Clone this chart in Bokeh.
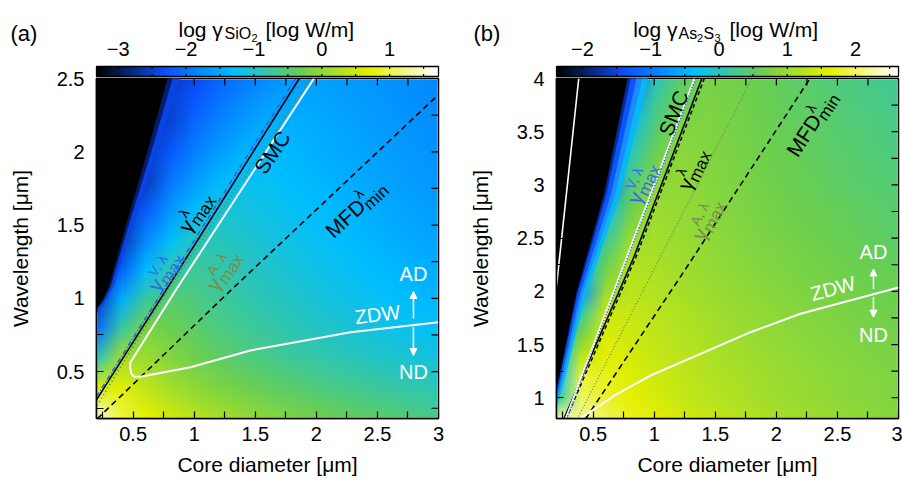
import math
import zlib
import struct
import base64
import numpy as np
from bokeh.plotting import figure
from bokeh.models import (LinearColorMapper, Label, FixedTicker, CustomJSTickFormatter,
                          Arrow, NormalHead, Range1d)
from bokeh.layouts import row, column
from bokeh.embed import file_html
from bokeh.resources import INLINE

FONT = "Liberation Sans"

# ---------------------------------------------------------------- data
core_diameter = [0.2, 0.4, 0.6, 0.8, 1.0, 1.2, 1.4, 1.6, 1.8, 2.0, 2.2, 2.4, 2.6, 2.8, 3.0]

wavelength_a = [0.2, 0.4, 0.6, 0.8, 1.0, 1.2, 1.4, 1.6, 1.8, 2.0, 2.2, 2.4, 2.6]
log_gamma_sio2 = [
    [1.49, 0.97, 0.72, 0.50, 0.33, 0.18, 0.05, -0.06, -0.17, -0.26, -0.35, -0.43, -0.50, -0.57, -0.63],
    [0.60, 0.68, 0.39, 0.17, -0.01, -0.15, -0.27, -0.38, -0.47, -0.56, -0.64, -0.71, -0.77, -0.83, -0.89],
    [-0.90, 0.15, 0.10, -0.09, -0.26, -0.40, -0.52, -0.62, -0.72, -0.80, -0.88, -0.95, -1.01, -1.07, -1.13],
    [-2.07, -0.77, -0.15, -0.29, -0.43, -0.57, -0.68, -0.78, -0.88, -0.96, -1.03, -1.10, -1.17, -1.23, -1.28],
    [-2.60, -1.48, -0.77, -0.47, -0.58, -0.70, -0.81, -0.90, -0.99, -1.08, -1.15, -1.22, -1.28, -1.34, -1.39],
    [-2.60, -2.16, -1.33, -0.83, -0.71, -0.80, -0.90, -1.00, -1.08, -1.16, -1.23, -1.30, -1.36, -1.42, -1.47],
    [-2.60, -2.60, -1.80, -1.29, -0.92, -0.92, -1.00, -1.09, -1.17, -1.24, -1.31, -1.38, -1.44, -1.50, -1.55],
    [-2.60, -2.60, -2.20, -1.66, -1.30, -1.05, -1.10, -1.17, -1.24, -1.31, -1.38, -1.44, -1.50, -1.56, -1.61],
    [-2.60, -2.60, -2.57, -1.96, -1.61, -1.35, -1.21, -1.25, -1.32, -1.38, -1.45, -1.51, -1.57, -1.62, -1.67],
    [-2.60, -2.60, -2.60, -2.24, -1.87, -1.61, -1.40, -1.33, -1.38, -1.44, -1.49, -1.55, -1.61, -1.66, -1.71],
    [-2.60, -2.60, -2.60, -2.48, -2.09, -1.83, -1.63, -1.46, -1.45, -1.49, -1.54, -1.60, -1.65, -1.70, -1.75],
    [-2.60, -2.60, -2.60, -2.50, -2.30, -2.03, -1.83, -1.66, -1.53, -1.55, -1.60, -1.64, -1.69, -1.74, -1.79],
    [-2.60, -2.60, -2.60, -2.60, -2.49, -2.21, -2.01, -1.84, -1.71, -1.62, -1.65, -1.69, -1.73, -1.78, -1.82],
]

wavelength_b = [0.8, 1.0, 1.2, 1.4, 1.6, 1.8, 2.0, 2.2, 2.4, 2.6, 2.8, 3.0, 3.2, 3.4, 3.6, 3.8, 4.0]
log_gamma_as2s3 = [
    [2.20, 2.22, 1.97, 1.77, 1.62, 1.49, 1.39, 1.30, 1.21, 1.13, 1.07, 1.01, 0.95, 0.90, 0.85],
    [0.16, 2.01, 1.80, 1.63, 1.50, 1.38, 1.28, 1.20, 1.12, 1.05, 0.99, 0.94, 0.88, 0.84, 0.80],
    [-0.40, 1.85, 1.72, 1.56, 1.44, 1.33, 1.24, 1.16, 1.09, 1.03, 0.97, 0.92, 0.87, 0.83, 0.77],
    [-0.40, 1.27, 1.62, 1.49, 1.37, 1.27, 1.19, 1.10, 1.04, 0.98, 0.93, 0.87, 0.83, 0.78, 0.74],
    [-0.40, 0.74, 1.53, 1.43, 1.32, 1.22, 1.14, 1.06, 0.99, 0.93, 0.88, 0.83, 0.78, 0.73, 0.70],
    [-0.40, 0.18, 1.40, 1.38, 1.28, 1.19, 1.11, 1.03, 0.97, 0.91, 0.85, 0.80, 0.75, 0.71, 0.67],
    [-0.40, -0.73, 1.03, 1.30, 1.21, 1.12, 1.04, 0.97, 0.91, 0.85, 0.79, 0.75, 0.70, 0.66, 0.62],
    [-0.40, -0.40, 0.70, 1.23, 1.17, 1.08, 1.00, 0.93, 0.86, 0.81, 0.75, 0.70, 0.65, 0.61, 0.57],
    [-0.40, -0.40, 0.37, 1.10, 1.12, 1.04, 0.96, 0.89, 0.82, 0.77, 0.71, 0.66, 0.61, 0.56, 0.52],
    [-0.40, -0.40, 0.03, 0.85, 1.07, 1.00, 0.92, 0.86, 0.79, 0.72, 0.67, 0.62, 0.57, 0.52, 0.48],
    [-0.40, -0.40, -0.39, 0.62, 1.03, 0.98, 0.90, 0.83, 0.76, 0.70, 0.64, 0.59, 0.54, 0.49, 0.45],
    [-0.40, -0.40, -1.17, 0.39, 0.90, 0.94, 0.87, 0.80, 0.73, 0.66, 0.60, 0.54, 0.49, 0.45, 0.42],
    [-0.40, -0.40, -0.40, 0.16, 0.71, 0.91, 0.85, 0.78, 0.71, 0.64, 0.58, 0.52, 0.47, 0.42, 0.37],
    [-0.40, -0.40, -0.40, -0.08, 0.53, 0.87, 0.83, 0.76, 0.69, 0.62, 0.56, 0.50, 0.44, 0.39, 0.34],
    [-0.40, -0.40, -0.40, -0.36, 0.36, 0.75, 0.81, 0.74, 0.67, 0.60, 0.54, 0.47, 0.41, 0.36, 0.30],
    [-0.40, -0.40, -0.40, -0.70, 0.19, 0.60, 0.78, 0.73, 0.65, 0.58, 0.51, 0.45, 0.38, 0.32, 0.26],
    [-0.40, -0.40, -0.40, -1.49, 0.01, 0.46, 0.75, 0.71, 0.64, 0.56, 0.49, 0.41, 0.34, 0.27, 0.22],
]

# edge of the region below the colour-scale minimum (drawn black)
a_black_edge_d = [0.15, 0.2, 0.25, 0.30, 0.437, 0.615, 0.779, 0.81]
a_black_edge_w = [0.84, 0.93, 0.99, 1.08, 1.49, 2.004, 2.5, 2.6]
b_black_edge_d = [0.12, 0.2, 0.233, 0.36, 0.415, 0.59, 0.78, 0.81]
b_black_edge_w = [0.7, 1.08, 1.26, 1.98, 2.2, 2.92, 4.0, 4.2]
# steep rise next to that edge: (start, end as fraction of edge diameter, colour)
a_edge_bands = [(0.0, 0.06, "#071c66"), (0.06, 0.13, "#0a44e6")]
b_edge_bands = [(0.0, 0.04, "#0a2a9a"), (0.04, 0.10, "#0a55ff"), (0.10, 0.16, "#1a8cff"),
                (0.16, 0.22, "#08b8f4")]

cbar_range_a = [-3.32, 1.72]
cbar_range_b = [-2.38, 2.63]
cbar_ticks_a = [-3, -2, -1, 0, 1]
cbar_ticks_b = [-2, -1, 0, 1, 2]

x_ticks = [0.5, 1, 1.5, 2, 2.5, 3]
x_minor = [0.25, 0.75, 1.25, 1.75, 2.25, 2.75]
y_ticks_a = [0.5, 1, 1.5, 2, 2.5]
y_minor_a = [0.25, 0.75, 1.25, 1.75, 2.25]
y_ticks_b = [1, 1.5, 2, 2.5, 3, 3.5, 4]
y_minor_b = [1.25, 1.75, 2.25, 2.75, 3.25, 3.75]

# curves, panel (a): core diameter [um] / wavelength [um]
a_gmax_lam_d = [0.2, 1.03, 1.86]
a_gmax_lam_w = [0.307, 1.40, 2.5]
a_gmax_V_d = [0.2, 1.83]
a_gmax_V_w = [0.33, 2.5]
a_gmax_A_d = [0.205, 0.784, 1.95]
a_gmax_A_w = [0.27, 1.053, 2.5]
a_smc_zdw_d = [1.98, 0.847, 0.478, 0.474, 0.485, 0.505, 0.56, 0.97, 1.46, 2.28, 3.0]
a_smc_zdw_w = [2.5, 1.053, 0.564, 0.53, 0.485, 0.467, 0.465, 0.53, 0.644, 0.769, 0.837]
a_mfd_d = [0.206, 1.297, 3.0]
a_mfd_w = [0.178, 1.053, 2.39]

# curves, panel (b)
b_smc_d = [0.274, 1.33]
b_smc_w = [0.8, 4.0]
b_gmax_V_d = [0.282, 1.338]
b_gmax_V_w = [0.8, 4.0]
b_gmax_lam_d = [0.26, 0.833, 1.39]
b_gmax_lam_w = [0.8, 2.32, 4.0]
b_gmax_lam2_d = [0.278, 0.85, 1.41]
b_gmax_lam2_w = [0.8, 2.32, 4.0]
b_gmax_A_d = [0.37, 1.80]
b_gmax_A_w = [0.8, 4.0]
b_mfd_d = [0.437, 1.24, 2.275]
b_mfd_w = [0.8, 2.18, 4.0]
b_zdw_d = [0.385, 0.41, 0.697, 0.97, 1.379, 1.788, 2.198, 3.0]
b_zdw_w = [0.80, 0.817, 1.037, 1.209, 1.413, 1.616, 1.789, 2.036]
b_zdw2_d = [0.2, 0.289, 0.382]
b_zdw2_w = [2.05, 3.0, 4.0]

# ---------------------------------------------------------------- palette
STOPS = [0.0, 0.2, 0.4, 0.6, 0.8, 1.0]
STOP_COLORS = ["#000000", "#0a50ff", "#00bfff", "#6acf50", "#e6f000", "#ffffff"]
_rgb = np.array([[int(c[i:i + 2], 16) for i in (1, 3, 5)] for c in STOP_COLORS], float)


def rgb_at(t):
    t = min(max(t, 0.0), 1.0)
    return tuple(int(round(np.interp(t, STOPS, _rgb[:, k]))) for k in range(3))


PALETTE = ["#%02x%02x%02x" % rgb_at(t) for t in np.linspace(0, 1, 256)]


def png_url(rows_rgb):
    h, w = len(rows_rgb), len(rows_rgb[0])
    raw = b"".join(b"\x00" + bytes([c for px in r for c in px]) for r in rows_rgb)

    def chunk(tag, data):
        return (struct.pack(">I", len(data)) + tag + data +
                struct.pack(">I", zlib.crc32(tag + data) & 0xffffffff))
    png = (b"\x89PNG\r\n\x1a\n" + chunk(b"IHDR", struct.pack(">IIBBBBB", w, h, 8, 2, 0, 0, 0)) +
           chunk(b"IDAT", zlib.compress(raw)) + chunk(b"IEND", b""))
    return "data:image/png;base64," + base64.b64encode(png).decode()


def lab(p, x, y, text, size, color="black", angle=0.0, align="center", baseline="middle", xo=0, yo=0):
    p.add_layout(Label(x=x, y=y, text=text, text_font=FONT, text_font_size=f"{size}px",
                       text_color=color, angle=math.radians(angle), text_align=align,
                       text_baseline=baseline, x_offset=xo, y_offset=yo))


def composite(p, xc, yc, angle_deg, color, pieces, cu, cv):
    th = math.radians(angle_deg)
    c, s = math.cos(th), math.sin(th)
    for txt, u, v, size in pieces:
        uu, vv = u - cu, v - cv
        lab(p, xc, yc, txt, size, color, angle_deg, "left", "alphabetic",
            xo=uu * c - vv * s, yo=uu * s + vv * c)


def gamma_label(p, xc, yc, ang, color, sup):
    pieces = [("γ", 0, 0, 21), (sup, 11, 9, 14), ("max", 11, -6, 17)]
    composite(p, xc, yc, ang, color, pieces, 21, 4)


def mfd_label(p, xc, yc, ang):
    pieces = [("MFD", 0, 0, 21), ("λ", 46, 9, 14), ("min", 46, -6, 17)]
    composite(p, xc, yc, ang, "black", pieces, 36, 5)


FRAME_W, FRAME_H = 342, 340

# can the heat-map figure be pulled up under the colour strip?
OVERLAP = 11
try:
    _probe = figure(width=10, height=10)
    _probe.margin = (-OVERLAP, 0, 0, 0)
    USE_OVERLAP = True
except Exception:
    USE_OVERLAP = False

CB_H = 78 if USE_OVERLAP else 72
CB_SHIFT = 0 if USE_OVERLAP else 5
MAIN_TOP = OVERLAP if USE_OVERLAP else 6
MAIN_H = MAIN_TOP + FRAME_H + 64


def make_cbar(W, page_x0, page_frame_left, crange, cticks, title_pieces, letter, letter_px):
    """colour scale strip above a panel; x axis in colour-scale units"""
    vmin, vmax = crange
    span = vmax - vmin

    def vx(page_px):
        return vmin + (page_px - page_frame_left) / FRAME_W * span

    def yy(page_py):
        return CB_H - (page_py - CB_SHIFT)

    p = figure(width=W, height=CB_H, x_range=Range1d(vx(page_x0), vx(page_x0 + W)),
               y_range=Range1d(0, CB_H), min_border=0, output_backend="svg",
               toolbar_location=None, x_axis_location=None, y_axis_location=None)
    try:
        p.frame_align = False
    except Exception:
        pass
    p.outline_line_color = None
    p.grid.visible = False
    p.background_fill_color = "white"
    p.border_fill_color = "white"
    cmap = LinearColorMapper(palette=PALETTE, low=vmin, high=vmax)
    bar = np.linspace(vmin, vmax, FRAME_W)[None, :]
    p.image(image=[bar], x=vmin, y=yy(76), dw=span, dh=10, color_mapper=cmap)
    halves = [k / 2 for k in range(math.ceil(vmin * 2), math.floor(vmax * 2) + 1)]
    p.segment(x0=halves, y0=[yy(66)] * len(halves), x1=halves, y1=[yy(66) - 2.5] * len(halves),
              line_color="black", line_width=1.2)
    p.segment(x0=halves, y0=[yy(76)] * len(halves), x1=halves, y1=[yy(76) + 2.5] * len(halves),
              line_color="black", line_width=1.2)
    p.quad(left=[vmin], right=[vmax], bottom=[yy(76)], top=[yy(66)], fill_color=None,
           line_color="black", line_width=1.3)
    for v in cticks:
        txt = ("−%d" % abs(v)) if v < 0 else "%d" % v
        lab(p, v, yy(48), txt, 20, baseline="alphabetic")
    for txt, px, py, size in title_pieces:
        lab(p, vx(px), yy(py), txt, size, align="left", baseline="alphabetic")
    lab(p, vx(letter_px), yy(33), letter, 22, align="left", baseline="alphabetic")
    return p


def make_main(W, left_border, right_border, yr, yt, ym, grid, wl, crange, edge_d, edge_w, bands):
    p = figure(width=W, height=MAIN_H, x_range=Range1d(0.2, 3.0), y_range=Range1d(*yr),
               output_backend="svg", toolbar_location=None,
               min_border_left=left_border, min_border_right=right_border,
               min_border_top=MAIN_TOP, min_border_bottom=64)
    if USE_OVERLAP:
        p.margin = (-OVERLAP, 0, 0, 0)
        p.border_fill_alpha = 0.0
    else:
        p.border_fill_color = "white"
    p.grid.visible = False
    p.background_fill_color = "white"
    p.outline_line_color = "black"
    p.outline_line_width = 1.5
    fmt = CustomJSTickFormatter(code="return String(Math.round(tick*100)/100);")
    p.xaxis.ticker = FixedTicker(ticks=x_ticks, minor_ticks=x_minor)
    p.yaxis.ticker = FixedTicker(ticks=yt, minor_ticks=ym)
    for ax in (p.xaxis, p.yaxis):
        ax.formatter = fmt
        ax.major_tick_in = 7
        ax.major_tick_out = 0
        ax.minor_tick_in = 7
        ax.minor_tick_out = 0
        ax.major_tick_line_width = 1.2
        ax.minor_tick_line_width = 1.2
        ax.axis_line_width = 1.5
        ax.major_label_text_font = FONT
        ax.major_label_text_font_size = "20px"
        ax.major_label_text_color = "black"
        ax.axis_label_text_font = FONT
        ax.axis_label_text_font_size = "21px"
        ax.axis_label_text_font_style = "normal"
        ax.axis_label_text_color = "black"
    p.xaxis.major_label_standoff = 8
    p.yaxis.major_label_standoff = 12
    p.xaxis.axis_label = "Core diameter [μm]"
    p.xaxis.axis_label_standoff = 9
    p.yaxis.axis_label = "Wavelength [μm]"
    p.yaxis.axis_label_standoff = 22

    # heat map: one coloured pixel per grid value, drawn on the data scales
    vmin, vmax = crange
    rows_rgb = [[rgb_at((v - vmin) / (vmax - vmin)) for v in r] for r in reversed(grid)]
    dd = core_diameter[1] - core_diameter[0]
    dl = wl[1] - wl[0]
    p.image_url(url=[png_url(rows_rgb)], x=core_diameter[0] - dd / 2, y=wl[0] - dl / 2,
                w=dd * len(core_diameter), h=dl * len(wl), anchor="bottom_left")

    # steep edge next to the black region, then the black region itself
    for f0, f1, col in bands:
        xs = [d * (1 + f0) for d in edge_d] + [d * (1 + f1) for d in reversed(edge_d)]
        ys = list(edge_w) + list(reversed(edge_w))
        p.patch(xs, ys, fill_color=col, line_color=col, line_width=0.5)
    p.patch(list(edge_d) + [-0.5, -0.5], list(edge_w) + [edge_w[-1], edge_w[0]],
            fill_color="black", line_color="black", line_width=0.5)

    # mirrored ticks on top / right
    tl_y = 7 / FRAME_H * (yr[1] - yr[0])
    tl_x = 7 / FRAME_W * 2.8
    xt = x_ticks + x_minor
    p.segment(x0=xt, y0=[yr[1]] * len(xt), x1=xt, y1=[yr[1] - tl_y] * len(xt),
              line_color="black", line_width=1.2)
    yy = yt + ym
    p.segment(x0=[3.0] * len(yy), y0=yy, x1=[3.0 - tl_x] * len(yy), y1=yy,
              line_color="black", line_width=1.2)
    return p


# ---------------------------------------------------------------- panel (a)
title_a = [("log γ", 178, 29, 21), ("SiO", 224, 33, 16), ("2", 251, 37, 11), ("[log W/m]", 265, 29, 21)]
cb_a = make_cbar(463, 0, 96, cbar_range_a, cbar_ticks_a, title_a, "(a)", 10)
pa = make_main(463, 96, 25, (0.18, 2.5), y_ticks_a, y_minor_a, log_gamma_sio2, wavelength_a,
               cbar_range_a, a_black_edge_d, a_black_edge_w, a_edge_bands)

pa.line(a_mfd_d, a_mfd_w, line_color="black", line_width=1.6, line_dash="6 4")
pa.line(a_gmax_A_d, a_gmax_A_w, line_color="#5f8a3c", line_width=1.8, line_dash="1 3")
pa.line(a_smc_zdw_d, a_smc_zdw_w, line_color="white", line_width=2.0)
pa.line(a_gmax_lam_d, a_gmax_lam_w, line_color="black", line_width=1.6)
pa.line(a_gmax_V_d, a_gmax_V_w, line_color="#1f5aff", line_width=1.4, line_dash="5 2 1 2")

lab(pa, 1.638, 1.997, "SMC", 21, angle=56)
gamma_label(pa, 0.98, 1.60, 56, "black", "λ")
gamma_label(pa, 0.728, 1.197, 56, "#2f6af0", "V, λ")
gamma_label(pa, 1.207, 1.203, 56, "#7d8a4a", "A, λ")
mfd_label(pa, 2.288, 1.633, 43)
lab(pa, 2.50, 0.89, "ZDW", 20, color="white", angle=7)
lab(pa, 2.795, 1.163, "AD", 20, color="white")
lab(pa, 2.795, 0.50, "ND", 20, color="white")
for y0, y1 in ((0.862, 1.047), (0.803, 0.61)):
    pa.add_layout(Arrow(end=NormalHead(size=7, fill_color="white", line_color="white"),
                        x_start=2.795, y_start=y0, x_end=2.795, y_end=y1,
                        line_color="white", line_width=1.5))

# ---------------------------------------------------------------- panel (b)
title_b = [("log γ", 632.7, 29, 21), ("As", 678, 33, 16), ("2", 696.5, 37, 11), ("S", 703, 33, 16),
           ("3", 714, 37, 11), ("[log W/m]", 729, 29, 21)]
cb_b = make_cbar(439, 463, 556, cbar_range_b, cbar_ticks_b, title_b, "(b)", 473)
pb = make_main(439, 93, 4, (0.805, 4.0), y_ticks_b, y_minor_b, log_gamma_as2s3, wavelength_b,
               cbar_range_b, b_black_edge_d, b_black_edge_w, b_edge_bands)

pb.line(b_zdw2_d, b_zdw2_w, line_color="white", line_width=1.6)
pb.line(b_mfd_d, b_mfd_w, line_color="black", line_width=1.6, line_dash="6 4")
pb.line(b_gmax_A_d, b_gmax_A_w, line_color="#6a8a5a", line_width=1.3, line_dash="1 2")
pb.line(b_zdw_d, b_zdw_w, line_color="white", line_width=2.0)
pb.line(b_gmax_lam2_d, b_gmax_lam2_w, line_color="black", line_width=1.5, line_dash="4 3")
pb.line(b_gmax_lam_d, b_gmax_lam_w, line_color="black", line_width=1.6)
pb.line(b_smc_d, b_smc_w, line_color="white", line_width=2.0)
pb.line(b_gmax_V_d, b_gmax_V_w, line_color="#1f4fff", line_width=1.5, line_dash="1 2")

lab(pb, 1.158, 3.676, "SMC", 21, angle=68)
gamma_label(pb, 1.28, 3.16, 65, "black", "λ")
gamma_label(pb, 0.867, 3.03, 65, "#2f6af0", "V, λ")
gamma_label(pb, 1.40, 2.689, 63, "#788c4e", "A, λ")
mfd_label(pb, 2.25, 3.596, 57)
lab(pb, 2.464, 2.026, "ZDW", 20, color="white", angle=15)
lab(pb, 2.795, 2.367, "AD", 20, color="white")
lab(pb, 2.795, 1.585, "ND", 20, color="white")
for y0, y1 in ((2.023, 2.21), (1.945, 1.757)):
    pb.add_layout(Arrow(end=NormalHead(size=7, fill_color="white", line_color="white"),
                        x_start=2.795, y_start=y0, x_end=2.795, y_end=y1,
                        line_color="white", line_width=1.5))

layout = row(column(cb_a, pa), column(cb_b, pb))
open("out.html", "w").write(file_html(layout, INLINE, "gamma maps"))
